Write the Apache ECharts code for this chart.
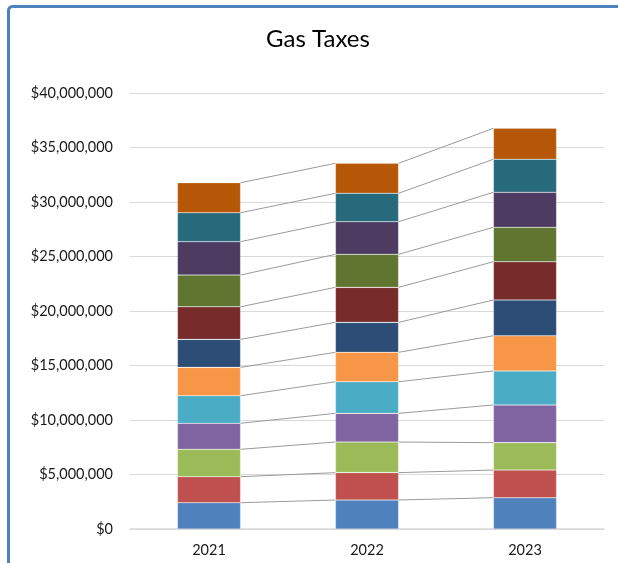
<!DOCTYPE html>
<html>
<head>
<meta charset="utf-8">
<script src="https://cdn.jsdelivr.net/npm/echarts@6/dist/echarts.min.js"></script>
<style>
  html, body { margin: 0; padding: 0; background: #fff; }
  #chart { width: 618px; height: 563px; }
</style>
</head>
<body>
<div id="chart"></div>
<script>
// years on the x axis
const years = ['2021', '2022', '2023']

// one array per stacked segment (bottom to top), values in dollars
const s1 = [2410000, 2660000, 2870000]
const s2 = [2390000, 2510000, 2540000]
const s3 = [2510000, 2810000, 2510000]
const s4 = [2390000, 2630000, 3460000]
const s5 = [2530000, 2900000, 3120000]
const s6 = [2600000, 2700000, 3230000]
const s7 = [2570000, 2750000, 3280000]
const s8 = [2990000, 3210000, 3510000]
const s9 = [2910000, 3030000, 3160000]
const s10 = [3060000, 2990000, 3210000]
const s11 = [2660000, 2610000, 3030000]
const s12 = [2750000, 2750000, 2840000]

const segments = [s1, s2, s3, s4, s5, s6, s7, s8, s9, s10, s11, s12]
const colors = ['#4f81bd', '#c0504d', '#9bbb59', '#8064a2', '#4bacc6', '#f79646',
  '#2c4d75', '#772c2a', '#5f7530', '#4d3b62', '#276a7c', '#b65708']

const yTicks = { min: 0, max: 40000000, interval: 5000000 }
const barFrac = 0.4

const chart = echarts.init(document.getElementById('chart'))

// running totals per year, used by the connector lines
const tops = segments.map((s, k) => years.map((y, i) => {
  let t = 0
  for (let j = 0; j <= k; j++) t += segments[j][i]
  return t
}))

const series = segments.map((data, k) => ({
  name: 'Series ' + (k + 1),
  type: 'bar',
  stack: 'total',
  barWidth: barFrac * 100 + '%',
  itemStyle: { color: colors[k], borderColor: 'rgba(255,255,255,0.35)', borderWidth: 0.6 },
  data: data
}))

// series lines joining the top of each segment to the next year
series.push({
  type: 'custom',
  silent: true,
  z: 1,
  data: years.slice(0, -1).map((y, i) => [i, 0]),
  encode: { x: 0, y: 1 },
  renderItem: function (params, api) {
    const i = api.value(0)
    const half = api.size([1, 0])[0] * barFrac / 2
    const children = tops.map(t => {
      const a = api.coord([i, t[i]])
      const b = api.coord([i + 1, t[i + 1]])
      return {
        type: 'line',
        shape: { x1: a[0] + half, y1: a[1], x2: b[0] - half, y2: b[1] },
        style: { stroke: '#9a9a9a', lineWidth: 1 }
      }
    })
    return { type: 'group', children: children }
  }
})

const option = {
  animation: false,
  title: {
    text: 'Gas Taxes',
    left: 313,
    textAlign: 'center',
    top: 22,
    textStyle: { fontFamily: 'Lato', fontSize: 24, fontWeight: 'normal', color: '#000' }
  },
  graphic: [{
    type: 'rect',
    shape: { x: 8.5, y: 6.5, width: 800, height: 800, r: 4 },
    style: { fill: 'none', stroke: '#4f81bd', lineWidth: 3 },
    silent: true
  }],
  grid: { left: 130, right: 14, top: 93, bottom: 34 },
  xAxis: {
    type: 'category',
    data: years,
    axisTick: { show: false },
    axisLine: { lineStyle: { color: '#d9d9d9', width: 1.5 } },
    axisLabel: { fontFamily: 'Lato', fontSize: 14.5, color: '#1a1a1a', margin: 14 }
  },
  yAxis: {
    type: 'value',
    min: yTicks.min,
    max: yTicks.max,
    interval: yTicks.interval,
    axisLine: { show: false },
    axisTick: { show: false },
    splitLine: { lineStyle: { color: '#d9d9d9', width: 1 } },
    axisLabel: {
      fontFamily: 'Lato',
      fontSize: 14.5,
      color: '#1a1a1a',
      margin: 17,
      formatter: v => '$' + v.toLocaleString('en-US')
    }
  },
  series: series
}

chart.setOption(option)
</script>
</body>
</html>
